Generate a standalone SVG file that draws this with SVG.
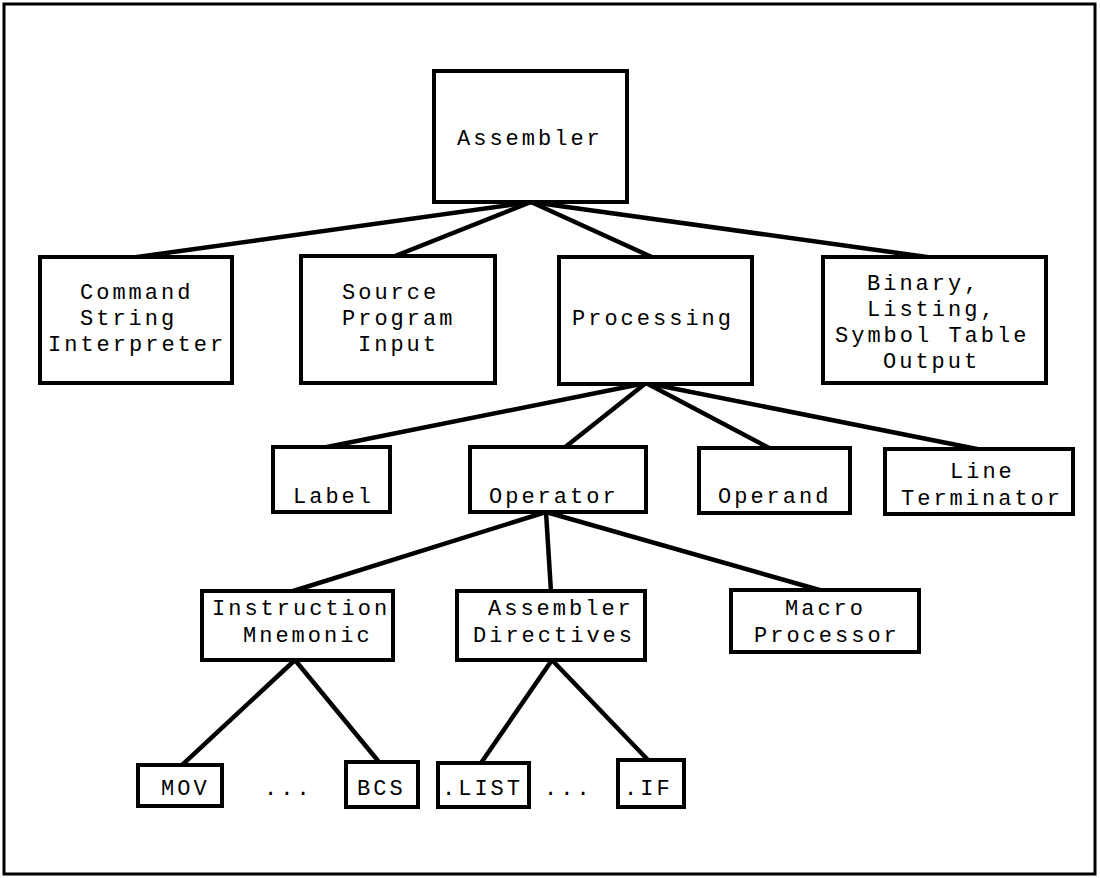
<svg xmlns="http://www.w3.org/2000/svg" width="1100" height="878" viewBox="0 0 1100 878">
<style>
.b{fill:#fff;stroke:#000;stroke-width:4}
.c line{stroke:#000;stroke-width:4.5;stroke-linecap:round}
text{font-family:"Liberation Mono","Courier New",monospace;font-size:22px;letter-spacing:3px;fill:#000}
</style>
<rect x="0" y="0" width="1100" height="878" fill="#fff"/>
<rect x="4" y="4" width="1091" height="870" fill="none" stroke="#000" stroke-width="3"/>
<g class="c" id="connectors">
<line x1="531" y1="202" x2="130" y2="258"/>
<line x1="531" y1="202" x2="390" y2="258"/>
<line x1="531" y1="202" x2="654" y2="258"/>
<line x1="531" y1="202" x2="934" y2="258"/>
<line x1="646" y1="383" x2="322" y2="448"/>
<line x1="646" y1="383" x2="564" y2="448"/>
<line x1="646" y1="383" x2="771" y2="449"/>
<line x1="646" y1="383" x2="982" y2="450"/>
<line x1="546" y1="512" x2="290" y2="592"/>
<line x1="546" y1="512" x2="551" y2="592"/>
<line x1="546" y1="512" x2="823" y2="591"/>
<line x1="295" y1="660" x2="181" y2="766"/>
<line x1="295" y1="660" x2="379" y2="762"/>
<line x1="552" y1="660" x2="481" y2="763"/>
<line x1="552" y1="660" x2="648" y2="760"/>
</g>
<g id="assembler"><rect class="b" x="434" y="71" width="193" height="131"/><text x="457" y="145">Assembler</text></g>
<g id="csi"><rect class="b" x="40" y="257" width="192" height="126"/><text x="80" y="299">Command</text><text x="80" y="325">String</text><text x="48" y="351">Interpreter</text></g>
<g id="spi"><rect class="b" x="301" y="256" width="194" height="127"/><text x="342" y="299">Source</text><text x="342" y="325">Program</text><text x="358" y="351">Input</text></g>
<g id="processing"><rect class="b" x="559" y="257" width="193" height="127"/><text x="572" y="325">Processing</text></g>
<g id="output"><rect class="b" x="823" y="257" width="223" height="126"/><text x="867" y="290">Binary,</text><text x="867" y="316">Listing,</text><text x="835" y="342">Symbol Table</text><text x="883" y="368">Output</text></g>
<g id="label"><rect class="b" x="273" y="447" width="117" height="65"/><text x="293" y="503">Label</text></g>
<g id="operator"><rect class="b" x="470" y="447" width="176" height="65"/><text x="489" y="503">Operator</text></g>
<g id="operand"><rect class="b" x="699" y="448" width="151" height="65"/><text x="718" y="503">Operand</text></g>
<g id="lineterm"><rect class="b" x="885" y="449" width="188" height="65"/><text x="950" y="478">Line</text><text x="901" y="505">Terminator</text></g>
<g id="instr"><rect class="b" x="202" y="591" width="191" height="69"/><text x="212" y="615">Instruction</text><text x="243" y="642">Mnemonic</text></g>
<g id="directives"><rect class="b" x="457" y="591" width="188" height="69"/><text x="488" y="615">Assembler</text><text x="473" y="642">Directives</text></g>
<g id="macro"><rect class="b" x="731" y="590" width="188" height="62"/><text x="785" y="615">Macro</text><text x="754" y="642">Processor</text></g>
<g id="mov"><rect class="b" x="138" y="765" width="84" height="41"/><text x="161" y="795">MOV</text></g>
<g id="dots1"><text x="264" y="795">...</text></g>
<g id="bcs"><rect class="b" x="346" y="762" width="72" height="45"/><text x="357" y="795">BCS</text></g>
<g id="list"><rect class="b" x="438" y="763" width="91" height="44"/><text x="442" y="795">.LIST</text></g>
<g id="dots2"><text x="544" y="795">...</text></g>
<g id="if"><rect class="b" x="618" y="760" width="66" height="47"/><text x="624" y="795">.IF</text></g>
</svg>
